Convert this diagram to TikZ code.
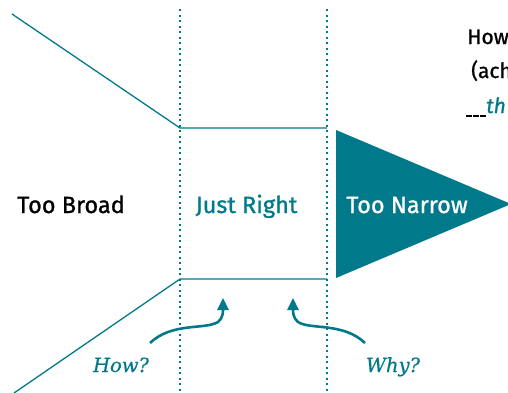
\documentclass[tikz,border=0pt]{standalone}
\usepackage{fontspec}
\setmainfont{Fira Sans}[FakeBold=1.0]
\newfontfamily\serifit{DejaVu Serif}[FakeBold=0.6]
\usetikzlibrary{arrows.meta}
\definecolor{teal1}{RGB}{0,122,138}
\newcommand{\blankdash}{\rule[-3.5pt]{5.5pt}{1.6pt}}
\tikzset{
  funnel/.style={draw=teal1, line width=1.3pt},
  divider/.style={draw=teal1, line width=2.4pt, dash pattern=on 2.3pt off 3.2pt},
  bigtxt/.style={font=\fontsize{23.5}{27}\selectfont, inner sep=0pt},
  qtxt/.style={font=\fontsize{19.5}{23}\selectfont\serifit\itshape, text=teal1, inner sep=0pt},
  toptxt/.style={font=\fontsize{21}{25}\selectfont, inner sep=0pt, anchor=base west},
  curvearrow/.style={draw=teal1, line width=2.6pt, -{Triangle[length=12pt,width=11pt]}}
}
\begin{document}
\begin{tikzpicture}[x=1pt,y=-1pt]
\useasboundingbox (0,0) rectangle (508,392);
\clip (0,0) rectangle (508,392);
% dividers
\coordinate (d1t) at (180,9);
\coordinate (d1b) at (180,394);
\coordinate (d2t) at (327,9);
\coordinate (d2b) at (327,394);
\draw[divider] (d1t) -- (d1b);
\draw[divider] (d2t) -- (d2b);
% funnel
\coordinate (ftl) at (12,14);
\coordinate (fti) at (180,128);
\coordinate (fto) at (327,128);
\coordinate (fbl) at (14,393);
\coordinate (fbi) at (180,279);
\coordinate (fbo) at (327,279);
\draw[funnel] (ftl) -- (fti) -- (fto);
\draw[funnel] (fbl) -- (fbi) -- (fbo);
% triangle
\coordinate (ta) at (336,130);
\coordinate (tb) at (336,278);
\coordinate (tc) at (511,204);
\fill[teal1] (ta) -- (tc) -- (tb) -- cycle;
% labels
\node[bigtxt, anchor=base] (tooBroad) at (71,213) {Too Broad};
\node[bigtxt, anchor=base, text=teal1] (justRight) at (246.5,213) {Just Right};
\node[bigtxt, anchor=base, text=white] (tooNarrow) at (407,213) {Too Narrow};
\node[qtxt, anchor=base] (howL) at (121,372) {How?};
\node[qtxt, anchor=base] (whyL) at (393,372) {Why?};
% curved arrows
\coordinate (howS) at (150,343);
\coordinate (howT) at (223,298);
\draw[curvearrow] (howS) .. controls (172,322) and (205,330) .. (218,322) .. controls (223,318) and (223,312) .. (howT);
\coordinate (whyS) at (365,343);
\coordinate (whyT) at (293,298);
\draw[curvearrow] (whyS) .. controls (343,322) and (310,330) .. (298,322) .. controls (293,318) and (293,312) .. (whyT);
% top right text (cut by the page edge, as in the reference)
\node[toptxt] (q1) at (467,44) {How};
\node[toptxt] (q2) at (471,78) {(ach};
\node[toptxt] (q3) at (466,113) {\blankdash\kern1.5pt\blankdash\kern1.5pt\blankdash\kern0.5pt\textcolor{teal1}{\itshape th}};
\end{tikzpicture}
\end{document}
